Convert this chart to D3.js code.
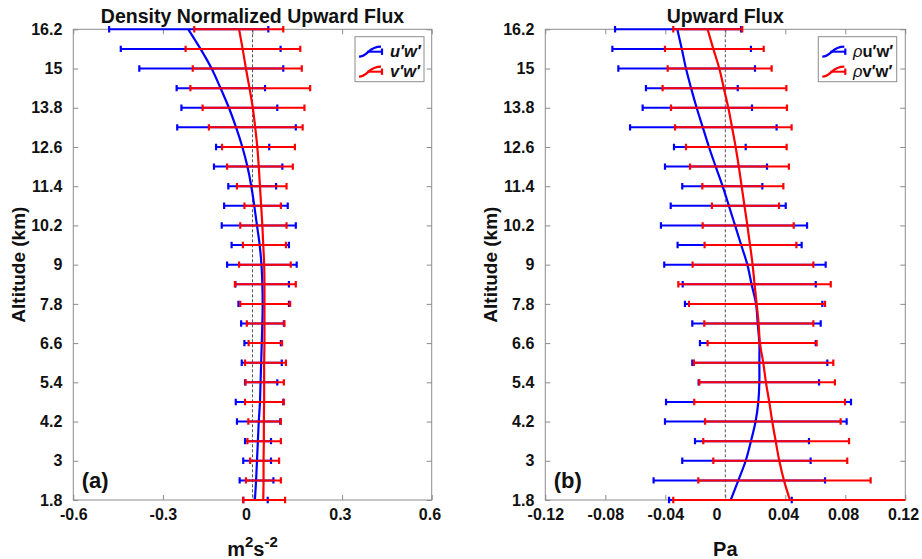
<!DOCTYPE html>
<html><head><meta charset="utf-8">
<script src="https://cdn.jsdelivr.net/npm/d3@7"></script>
<style>
body{margin:0;background:#fff}
svg{display:block;font-family:"Liberation Sans",Arial,Helvetica,sans-serif}
</style></head><body>
<svg id="chart" width="922" height="559"></svg>
<script>
// ---------------- DATA ----------------
const altitude = [1.8,2.4,3.0,3.6,4.2,4.8,5.4,6.0,6.6,7.2,7.8,8.4,9.0,9.6,10.2,10.8,11.4,12.0,12.6,13.2,13.8,14.4,15.0,15.6,16.2];
const yTicks = [1.8,3,4.2,5.4,6.6,7.8,9,10.2,11.4,12.6,13.8,15,16.2];
const yTickLabels = ["1.8","3","4.2","5.4","6.6","7.8","9","10.2","11.4","12.6","13.8","15","16.2"];

// Panel (a): density normalized upward flux (m^2 s^-2)
const xTicksA = [-0.6,-0.3,0,0.3,0.6];
const xTickLabelsA = ["-0.6","-0.3","0","0.3","0.6"];
const uwCurve = [0.008,0.012,0.015,0.018,0.021,0.025,0.027,0.029,0.031,0.033,0.034,0.033,0.030,0.024,0.015,0.006,-0.004,-0.017,-0.034,-0.055,-0.079,-0.107,-0.137,-0.174,-0.215];
const uwLow  = [-0.031,-0.043,-0.031,-0.025,-0.052,-0.056,-0.025,-0.036,-0.027,-0.038,-0.047,-0.057,-0.085,-0.070,-0.103,-0.095,-0.081,-0.129,-0.122,-0.252,-0.238,-0.254,-0.379,-0.441,-0.480];
const uwHigh = [0.051,0.070,0.062,0.062,0.093,0.103,0.083,0.098,0.095,0.105,0.122,0.122,0.148,0.122,0.145,0.118,0.079,0.100,0.056,0.145,0.083,0.042,0.103,0.094,0.053];
const vwCurve = [0.036,0.037,0.037,0.038,0.038,0.039,0.039,0.039,0.040,0.040,0.040,0.040,0.039,0.036,0.033,0.029,0.025,0.021,0.016,0.009,0.001,-0.010,-0.022,-0.033,-0.045];
const vwLow  = [-0.031,-0.022,-0.008,-0.017,-0.014,-0.025,-0.023,-0.025,-0.013,-0.019,-0.041,-0.059,-0.045,-0.032,-0.041,-0.027,-0.052,-0.085,-0.102,-0.146,-0.167,-0.208,-0.200,-0.224,-0.195];
const vwHigh = [0.109,0.095,0.089,0.095,0.095,0.105,0.105,0.112,0.099,0.107,0.126,0.145,0.128,0.112,0.114,0.095,0.114,0.135,0.142,0.168,0.174,0.193,0.165,0.160,0.103];

// Panel (b): upward flux (Pa)
const xTicksB = [-0.12,-0.08,-0.04,0,0.04,0.08,0.12];
const xTickLabelsB = ["-0.12","-0.08","-0.04","0","0.04","0.08","0.12"];
const ruwCurve = [0.0036,0.0087,0.0136,0.0171,0.0202,0.0220,0.0227,0.0227,0.0227,0.0216,0.0205,0.0175,0.0147,0.0106,0.0065,0.0024,-0.0018,-0.0064,-0.0109,-0.0150,-0.0191,-0.0228,-0.0262,-0.0290,-0.0320];
const ruwLow  = [-0.0375,-0.0478,-0.0287,-0.0202,-0.0402,-0.0395,-0.0178,-0.0220,-0.0169,-0.0220,-0.0269,-0.0284,-0.0407,-0.0318,-0.0429,-0.0364,-0.0287,-0.0402,-0.0342,-0.0635,-0.0551,-0.0529,-0.0713,-0.0753,-0.0735];
const ruwHigh = [0.0443,0.0665,0.0569,0.0558,0.0809,0.0838,0.0625,0.0680,0.0603,0.0636,0.0647,0.0603,0.0669,0.0509,0.0545,0.0403,0.0247,0.0278,0.0136,0.0342,0.0178,0.0083,0.0198,0.0171,0.0105];
const rvwCurve = [0.0431,0.0391,0.0360,0.0336,0.0313,0.0293,0.0271,0.0253,0.0231,0.0222,0.0209,0.0195,0.0182,0.0165,0.0147,0.0128,0.0109,0.0090,0.0069,0.0045,0.0020,-0.0010,-0.0040,-0.0080,-0.0118];
const rvwLow  = [-0.0347,-0.0180,-0.0080,-0.0147,-0.0135,-0.0207,-0.0173,-0.0209,-0.0118,-0.0140,-0.0242,-0.0313,-0.0218,-0.0138,-0.0151,-0.0089,-0.0153,-0.0235,-0.0262,-0.0335,-0.0362,-0.0418,-0.0384,-0.0402,-0.0347];
const rvwHigh = [0.1300,0.0969,0.0813,0.0825,0.0769,0.0798,0.0731,0.0720,0.0609,0.0587,0.0665,0.0703,0.0587,0.0474,0.0456,0.0358,0.0387,0.0424,0.0409,0.0442,0.0411,0.0407,0.0309,0.0256,0.0113];

// ---------------- DRAWING ----------------
const svg = d3.select("#chart");
const TOP = 29.3, BOTTOM = 500;
const y = d3.scaleLinear().domain([1.8,16.2]).range([BOTTOM, TOP]);
const AXIS_COLOR = "#8c8c8c", TEXT_COLOR = "#111";
const BLUE = "#0000ff", RED = "#ff0000";
const TICK_FONT = 16;

function panel(cfg){
  const g = svg.append("g");
  const x = d3.scaleLinear().domain(cfg.domain).range([cfg.left, cfg.right]);
  const clipId = "clip" + cfg.id;
  svg.append("clipPath").attr("id", clipId).append("rect")
     .attr("x", cfg.left).attr("y", TOP - 10).attr("width", cfg.right - cfg.left).attr("height", BOTTOM - TOP + 20);

  // box
  g.append("rect").attr("x", cfg.left).attr("y", TOP).attr("width", cfg.right - cfg.left).attr("height", BOTTOM - TOP)
   .attr("fill", "none").attr("stroke", AXIS_COLOR).attr("stroke-width", 1);

  // axes with inward ticks
  const maxLen = d3.max(cfg.tickLabels, s=>s.length);
  const axB = d3.axisBottom(x).tickValues(cfg.ticks).tickSizeInner(-5).tickSizeOuter(0).tickPadding(9)
                .tickFormat((d,i)=>cfg.tickLabels[i]);
  const gb = g.append("g").attr("transform", `translate(0,${BOTTOM})`).call(axB);
  // MATLAB-style padded labels: shorter labels sit slightly left of their tick
  gb.selectAll(".tick text").attr("dx", (d,i)=> -(maxLen - cfg.tickLabels[i].length) * 0.139 * TICK_FONT);
  const axT = d3.axisTop(x).tickValues(cfg.ticks).tickSizeInner(-5).tickSizeOuter(0).tickFormat("");
  const gt = g.append("g").attr("transform", `translate(0,${TOP})`).call(axT);
  const axL = d3.axisLeft(y).tickValues(yTicks).tickSizeInner(-5).tickSizeOuter(0).tickPadding(11)
                .tickFormat((d,i)=>yTickLabels[i]);
  const gl = g.append("g").attr("transform", `translate(${cfg.left},0)`).call(axL);
  const axR = d3.axisRight(y).tickValues(yTicks).tickSizeInner(-5).tickSizeOuter(0).tickFormat("");
  const gr = g.append("g").attr("transform", `translate(${cfg.right},0)`).call(axR);
  [gb,gt,gl,gr].forEach(a=>{
    a.select(".domain").remove();
    a.selectAll(".tick line").attr("stroke", AXIS_COLOR);
    a.selectAll(".tick text").attr("fill", TEXT_COLOR).attr("font-size", TICK_FONT).attr("font-weight", "bold");
  });

  // dashed zero line
  g.append("line").attr("x1", x(0)).attr("x2", x(0)).attr("y1", TOP).attr("y2", BOTTOM)
   .attr("stroke", "#555").attr("stroke-width", 1).attr("stroke-dasharray", "3,2");

  // series
  const plot = g.append("g").attr("clip-path", `url(#${clipId})`);
  cfg.series.forEach(s=>{
    const sg = plot.append("g");
    const rows = altitude.map((a,i)=>({a, lo:s.lo[i], hi:s.hi[i], c:s.curve[i]}));
    sg.selectAll("line.bar").data(rows).join("line").attr("class","bar")
      .attr("x1", d=>x(d.lo)).attr("x2", d=>x(d.hi)).attr("y1", d=>y(d.a)).attr("y2", d=>y(d.a))
      .attr("stroke", s.color).attr("stroke-width", 2);
    ["lo","hi"].forEach(k=>{
      sg.selectAll("line.cap"+k).data(rows).join("line").attr("class","cap"+k)
        .attr("x1", d=>x(d[k])).attr("x2", d=>x(d[k])).attr("y1", d=>y(d.a)-3.2).attr("y2", d=>y(d.a)+3.2)
        .attr("stroke", s.color).attr("stroke-width", 2.2);
    });
    const line = d3.line().x(d=>x(d.c)).y(d=>y(d.a)).curve(d3.curveCatmullRom.alpha(0.5));
    sg.append("path").datum(rows).attr("d", line).attr("fill","none")
      .attr("stroke", s.color).attr("stroke-width", 2.2);
  });

  // title
  g.append("text").attr("x", (cfg.left+cfg.right)/2).attr("y", 22.5).attr("text-anchor","middle")
   .attr("font-size", 19.5).attr("font-weight","bold").attr("fill", TEXT_COLOR).text(cfg.title);

  // y label
  g.append("text").attr("transform", `translate(${cfg.left-48},${(TOP+BOTTOM)/2}) rotate(-90)`)
   .attr("text-anchor","middle").attr("font-size", 19).attr("font-weight","bold").attr("fill", TEXT_COLOR)
   .text("Altitude (km)");

  // x label
  const xl = g.append("text").attr("x", (cfg.left+cfg.right)/2).attr("y", 556).attr("text-anchor","middle")
   .attr("font-size", 20).attr("font-weight","bold").attr("fill", TEXT_COLOR);
  cfg.xLabel(xl);

  // panel tag
  g.append("text").attr("x", cfg.left + 8.5).attr("y", 488).attr("font-size", 22).attr("font-weight","bold")
   .attr("fill", TEXT_COLOR).text(cfg.tag);

  // legend
  const L = cfg.legend;
  const lg = g.append("g");
  lg.append("rect").attr("x", L.x).attr("y", L.y).attr("width", L.w).attr("height", L.h)
    .attr("fill","#fff").attr("stroke", AXIS_COLOR).attr("stroke-width", 1);
  cfg.series.forEach((s,i)=>{
    const cy = L.y + 15 + i*20;
    const sx = L.x + 4;
    lg.append("path").attr("d", `M${sx},${cy+5} C${sx+9},${cy+5} ${sx+9},${cy-5} ${sx+22},${cy-5}`)
      .attr("fill","none").attr("stroke", s.color).attr("stroke-width", 2.2);
    lg.append("line").attr("x1", sx+8).attr("x2", sx+23).attr("y1", cy).attr("y2", cy)
      .attr("stroke", s.color).attr("stroke-width", 2);
    lg.append("line").attr("x1", sx+23).attr("x2", sx+23).attr("y1", cy-3.2).attr("y2", cy+3.2)
      .attr("stroke", s.color).attr("stroke-width", 2.2);
    const t = lg.append("text").attr("x", L.tx).attr("y", cy+5.5).attr("font-size", 16.5)
      .attr("fill", TEXT_COLOR);
    s.label(t);
  });
}

panel({
  id:"a", tag:"(a)", left:73.3, right:431.7, domain:[-0.6,0.6], ticks:xTicksA, tickLabels:xTickLabelsA,
  title:"Density Normalized Upward Flux",
  xLabel: t=>{
    t.append("tspan").text("m");
    t.append("tspan").attr("dy",-9).attr("font-size",15).text("2");
    t.append("tspan").attr("dy",9).text("s");
    t.append("tspan").attr("dy",-9).attr("font-size",15).text("-2");
  },
  legend:{x:355, y:36.7, w:69, h:45, tx:390},
  series:[
    {color:BLUE, curve:uwCurve, lo:uwLow, hi:uwHigh,
     label:t=>t.append("tspan").attr("font-weight","bold").attr("font-style","italic").text("u\u2032w\u2032")},
    {color:RED, curve:vwCurve, lo:vwLow, hi:vwHigh,
     label:t=>t.append("tspan").attr("font-weight","bold").attr("font-style","italic").text("v\u2032w\u2032")}
  ]
});

panel({
  id:"b", tag:"(b)", left:545.3, right:905.3, domain:[-0.12,0.12], ticks:xTicksB, tickLabels:xTickLabelsB,
  title:"Upward Flux",
  xLabel: t=>t.text("Pa"),
  legend:{x:818.3, y:36.7, w:78.4, h:45, tx:853},
  series:[
    {color:BLUE, curve:ruwCurve, lo:ruwLow, hi:ruwHigh,
     label:t=>{t.append("tspan").attr("font-style","italic").text("\u03c1");
               t.append("tspan").attr("font-weight","bold").text("u\u2032w\u2032");}},
    {color:RED, curve:rvwCurve, lo:rvwLow, hi:rvwHigh,
     label:t=>{t.append("tspan").attr("font-style","italic").text("\u03c1");
               t.append("tspan").attr("font-weight","bold").text("v\u2032w\u2032");}}
  ]
});
</script>
</body></html>
